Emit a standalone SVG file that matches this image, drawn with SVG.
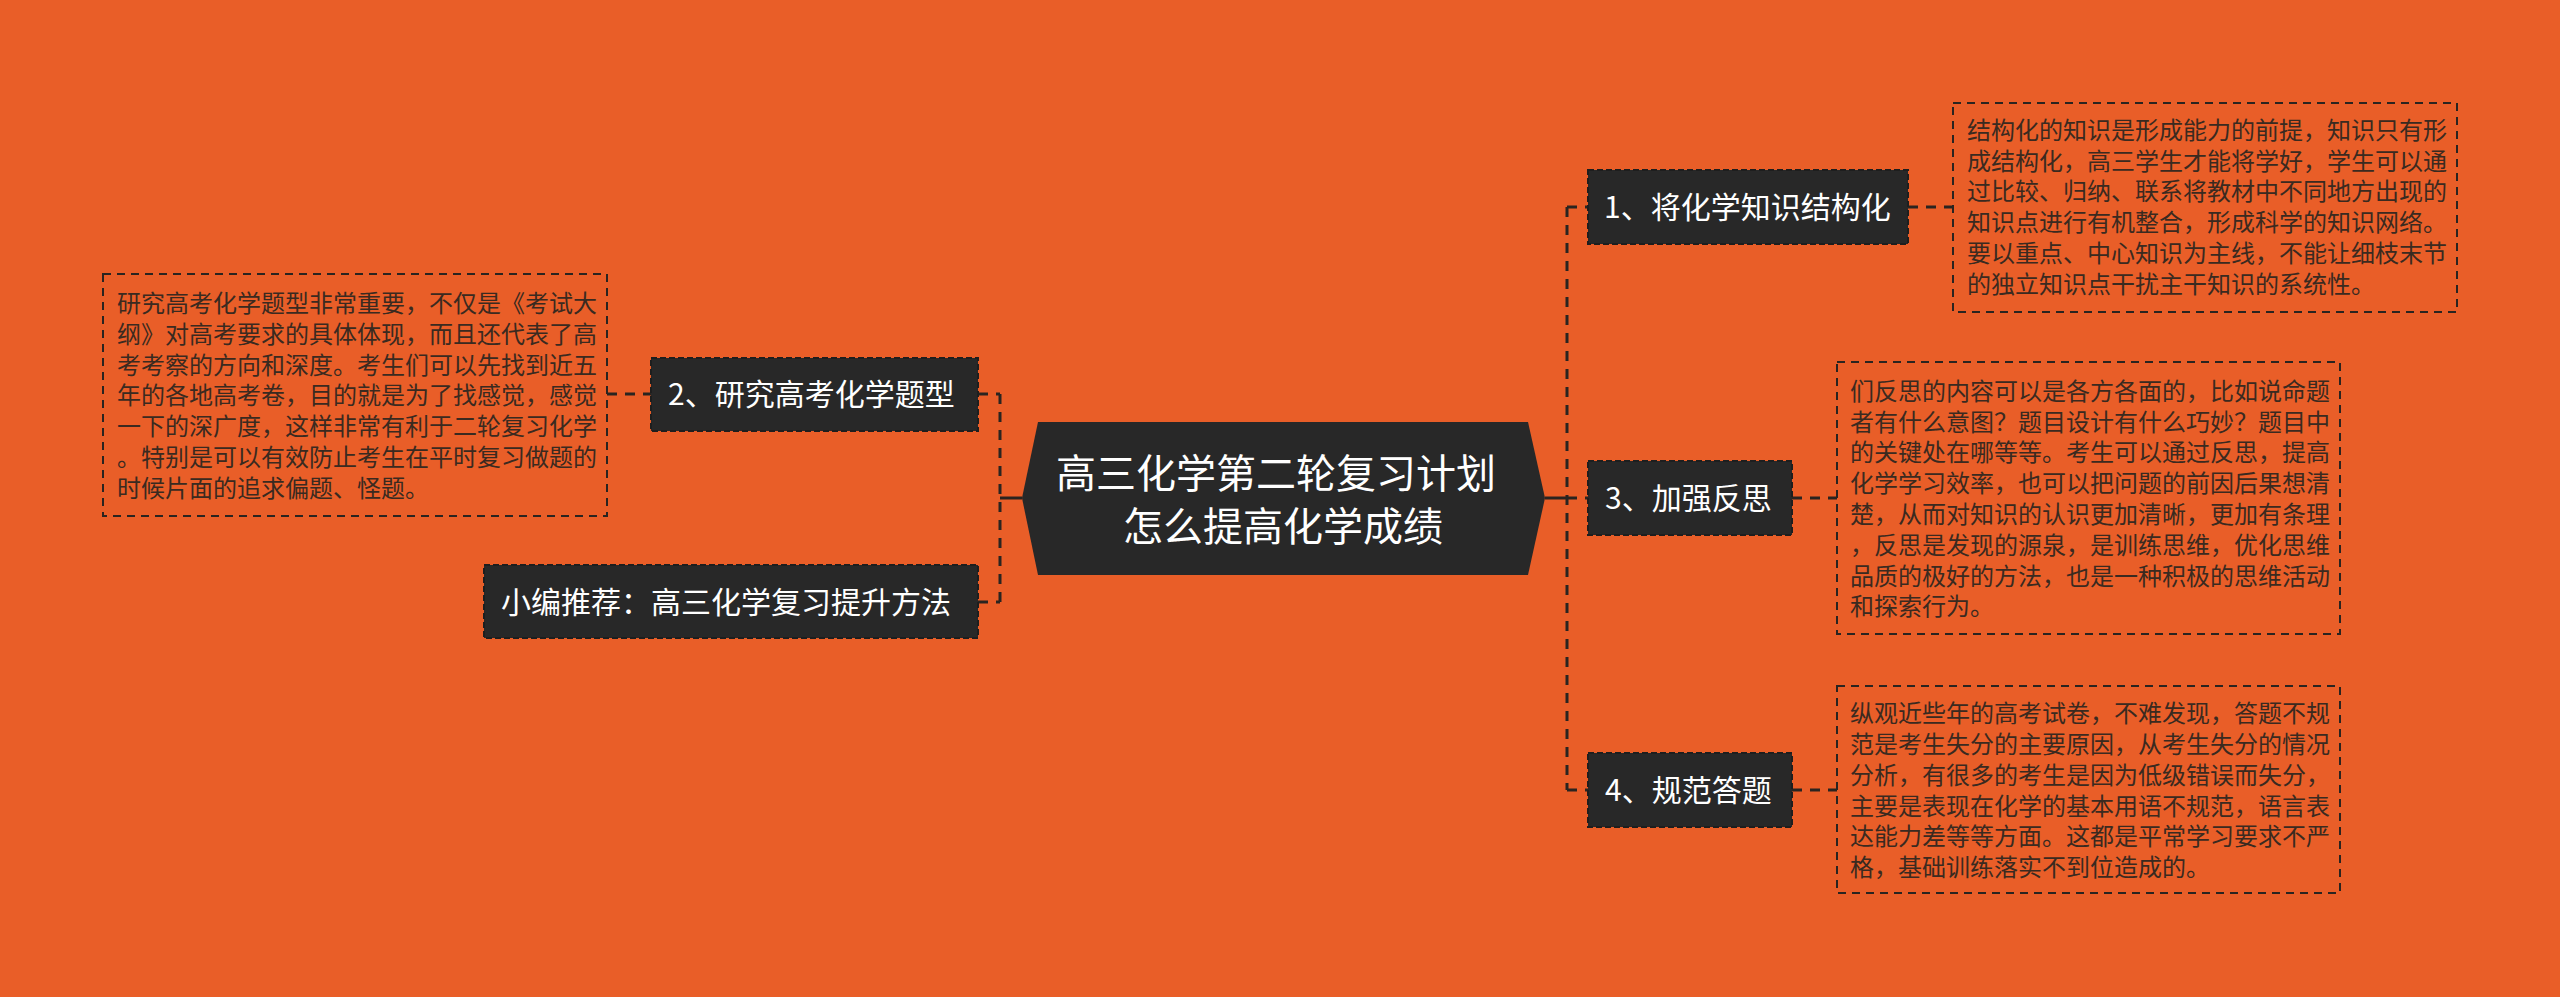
<svg xmlns="http://www.w3.org/2000/svg" width="2560" height="997" viewBox="0 0 2560 997">
<style>
.bg{fill:#E95E28}
.node{fill:#282828;stroke:#1e1e1e;stroke-width:2;stroke-dasharray:6 3}
.ntext{font-family:"Noto Sans CJK SC","Noto Sans",sans-serif;font-size:30px;fill:#ffffff}
.ctext{font-family:"Noto Sans CJK SC","Noto Sans",sans-serif;font-size:40px;fill:#ffffff;text-anchor:middle}
.box{fill:none;stroke:#2a2420;stroke-width:2;stroke-dasharray:8 6}
.btext{font-family:"Noto Sans CJK SC","Noto Sans",sans-serif;font-size:24px;fill:#3a2a20}
.conn{fill:none;stroke:#2a2420;stroke-width:3;stroke-dasharray:10 8}
.solid{fill:none;stroke:#2a2420;stroke-width:3}
</style>
<rect class="bg" x="0" y="0" width="2560" height="997"/>
<g id="connectors">
<path class="solid" d="M1022 498 H1000"/>
<path class="conn" d="M1000 394 V602"/>
<path class="conn" d="M978 394 H1000"/>
<path class="conn" d="M978 602 H1000"/>
<path class="conn" d="M607 394 H651"/>
<path class="solid" d="M1545 498 H1567"/>
<path class="conn" d="M1567 207 V790"/>
<path class="conn" d="M1567 207 H1588"/>
<path class="conn" d="M1567 498 H1588"/>
<path class="conn" d="M1567 790 H1588"/>
<path class="conn" d="M1908 207 H1953"/>
<path class="conn" d="M1792 498 H1837"/>
<path class="conn" d="M1792 790 H1837"/>
</g>
<g id="center">
<polygon points="1022,498 1038,422 1528,422 1545,498 1528,575 1038,575" fill="#282828"/>
<text class="ctext" x="1276" y="488">高三化学第二轮复习计划</text>
<text class="ctext" x="1283" y="541">怎么提高化学成绩</text>
</g>
<g id="n1">
<rect class="node" x="1588" y="170" width="320" height="74"/>
<text class="ntext" x="1604" y="218">1、将化学知识结构化</text>
</g>
<g id="d1">
<rect class="box" x="1953" y="103" width="504" height="209"/>
<text class="btext" x="1967">
<tspan x="1967" y="139">结构化的知识是形成能力的前提，知识只有形</tspan>
<tspan x="1967" y="170">成结构化，高三学生才能将学好，学生可以通</tspan>
<tspan x="1967" y="200">过比较、归纳、联系将教材中不同地方出现的</tspan>
<tspan x="1967" y="231">知识点进行有机整合，形成科学的知识网络。</tspan>
<tspan x="1967" y="262">要以重点、中心知识为主线，不能让细枝末节</tspan>
<tspan x="1967" y="293">的独立知识点干扰主干知识的系统性。</tspan>
</text>
</g>
<g id="n3">
<rect class="node" x="1588" y="461" width="204" height="74"/>
<text class="ntext" x="1605" y="509">3、加强反思</text>
</g>
<g id="d3">
<rect class="box" x="1837" y="362" width="503" height="272"/>
<text class="btext">
<tspan x="1850" y="400">们反思的内容可以是各方各面的，比如说命题</tspan>
<tspan x="1850" y="431">者有什么意图？题目设计有什么巧妙？题目中</tspan>
<tspan x="1850" y="461">的关键处在哪等等。考生可以通过反思，提高</tspan>
<tspan x="1850" y="492">化学学习效率，也可以把问题的前因后果想清</tspan>
<tspan x="1850" y="523">楚，从而对知识的认识更加清晰，更加有条理</tspan>
<tspan x="1850" y="554">，反思是发现的源泉，是训练思维，优化思维</tspan>
<tspan x="1850" y="585">品质的极好的方法，也是一种积极的思维活动</tspan>
<tspan x="1850" y="615">和探索行为。</tspan>
</text>
</g>
<g id="n4">
<rect class="node" x="1588" y="753" width="204" height="74"/>
<text class="ntext" x="1605" y="801">4、规范答题</text>
</g>
<g id="d4">
<rect class="box" x="1837" y="686" width="503" height="207"/>
<text class="btext">
<tspan x="1850" y="722">纵观近些年的高考试卷，不难发现，答题不规</tspan>
<tspan x="1850" y="753">范是考生失分的主要原因，从考生失分的情况</tspan>
<tspan x="1850" y="784">分析，有很多的考生是因为低级错误而失分，</tspan>
<tspan x="1850" y="815">主要是表现在化学的基本用语不规范，语言表</tspan>
<tspan x="1850" y="845">达能力差等等方面。这都是平常学习要求不严</tspan>
<tspan x="1850" y="876">格，基础训练落实不到位造成的。</tspan>
</text>
</g>
<g id="n2">
<rect class="node" x="651" y="358" width="327" height="73"/>
<text class="ntext" x="668" y="405">2、研究高考化学题型</text>
</g>
<g id="d2">
<rect class="box" x="103" y="274" width="504" height="242"/>
<text class="btext">
<tspan x="117" y="312">研究高考化学题型非常重要，不仅是《考试大</tspan>
<tspan x="117" y="343">纲》对高考要求的具体体现，而且还代表了高</tspan>
<tspan x="117" y="374">考考察的方向和深度。考生们可以先找到近五</tspan>
<tspan x="117" y="404">年的各地高考卷，目的就是为了找感觉，感觉</tspan>
<tspan x="117" y="435">一下的深广度，这样非常有利于二轮复习化学</tspan>
<tspan x="117" y="466">。特别是可以有效防止考生在平时复习做题的</tspan>
<tspan x="117" y="497">时候片面的追求偏题、怪题。</tspan>
</text>
</g>
<g id="n5">
<rect class="node" x="484" y="565" width="494" height="73"/>
<text class="ntext" x="501" y="613">小编推荐：高三化学复习提升方法</text>
</g>
</svg>
